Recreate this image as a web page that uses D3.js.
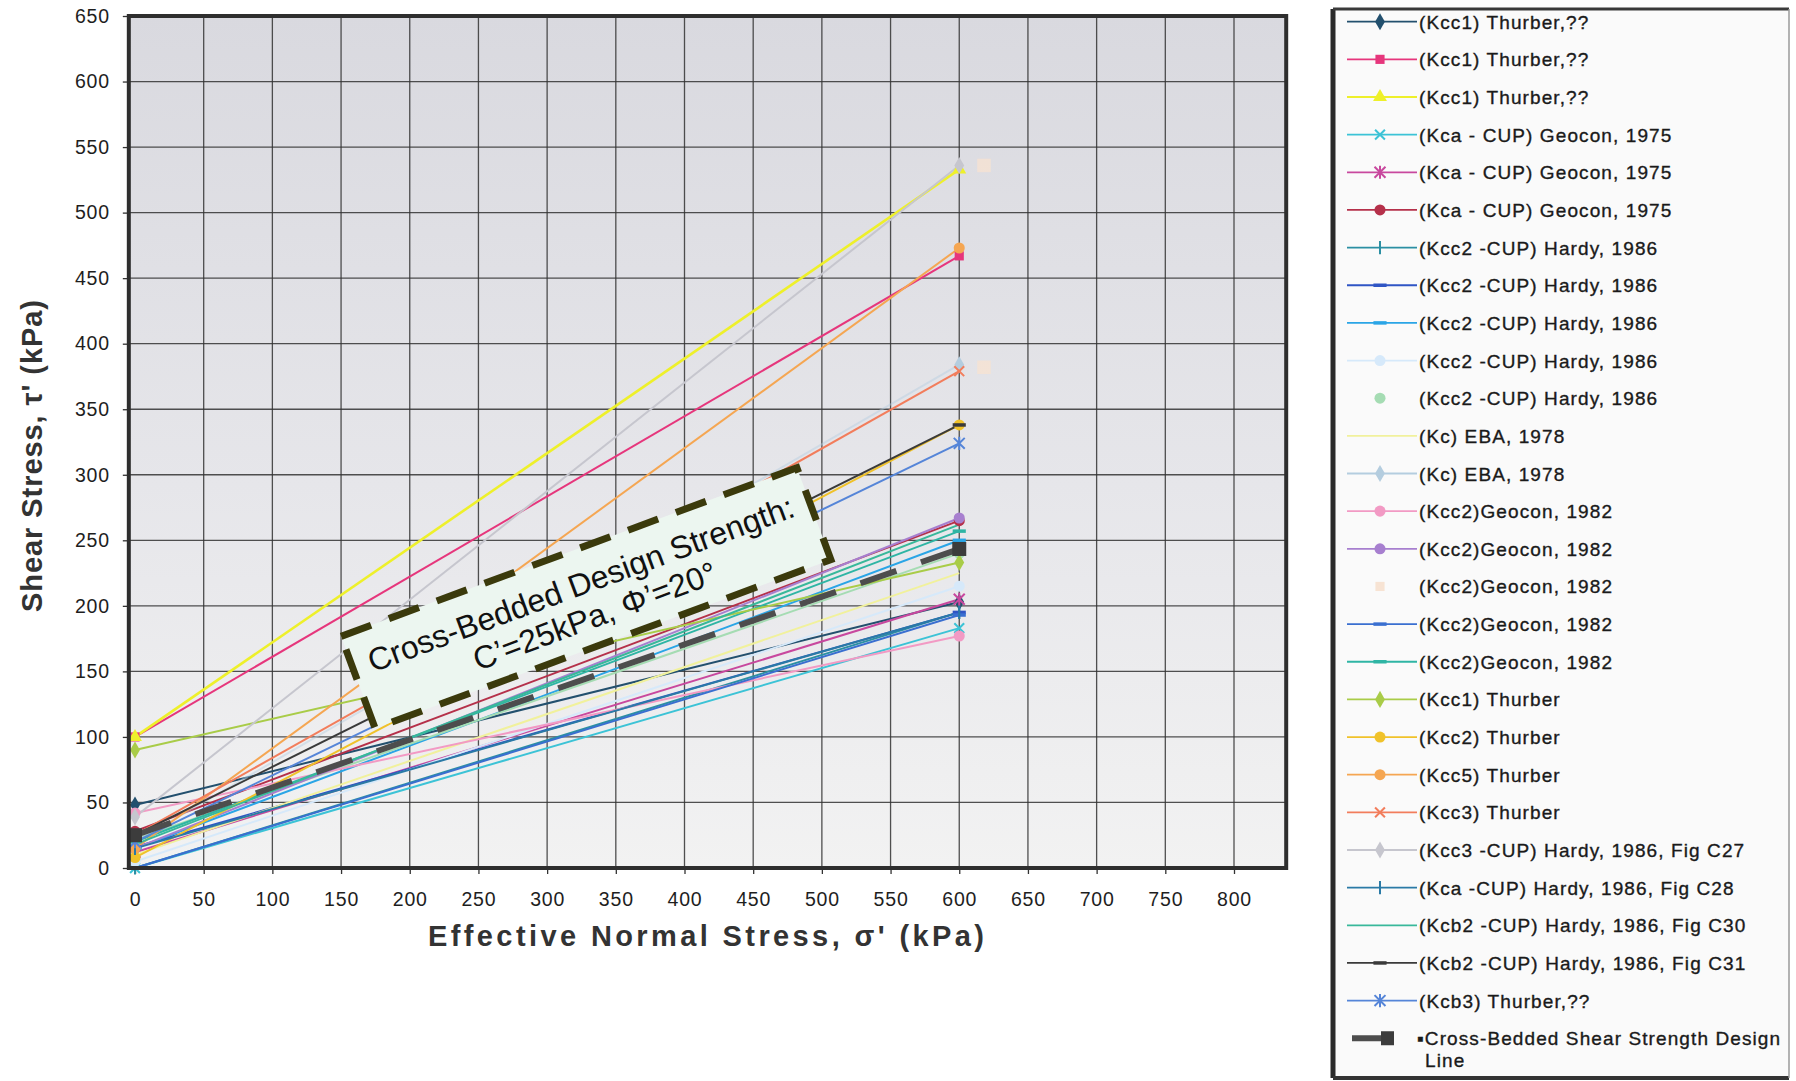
<!DOCTYPE html>
<html>
<head>
<meta charset="utf-8">
<script src="https://cdn.jsdelivr.net/npm/d3@7"></script>
<style>
  body { margin: 0; background: #ffffff; }
  svg { display: block; }
  text { font-family: "Liberation Sans", Arial, Helvetica, sans-serif; }
</style>
</head>
<body>
<svg id="chart" width="1796" height="1081"></svg>
<script>
// ---- data -------------------------------------------------------------
const seriesNames = [
  "(Kcc1) Thurber,??", "(Kcc1) Thurber,??", "(Kcc1) Thurber,??",
  "(Kca - CUP) Geocon, 1975", "(Kca - CUP) Geocon, 1975", "(Kca - CUP) Geocon, 1975",
  "(Kcc2 -CUP) Hardy, 1986", "(Kcc2 -CUP) Hardy, 1986", "(Kcc2 -CUP) Hardy, 1986",
  "(Kcc2 -CUP) Hardy, 1986", "(Kcc2 -CUP) Hardy, 1986",
  "(Kc) EBA, 1978", "(Kc) EBA, 1978",
  "(Kcc2)Geocon, 1982", "(Kcc2)Geocon, 1982", "(Kcc2)Geocon, 1982",
  "(Kcc2)Geocon, 1982", "(Kcc2)Geocon, 1982",
  "(Kcc1) Thurber", "(Kcc2) Thurber", "(Kcc5) Thurber", "(Kcc3) Thurber",
  "(Kcc3 -CUP) Hardy, 1986, Fig C27", "(Kca -CUP) Hardy, 1986, Fig C28",
  "(Kcb2 -CUP) Hardy, 1986, Fig C30", "(Kcb2 -CUP) Hardy, 1986, Fig C31",
  "(Kcb3) Thurber,??"
];
// effective normal stress at which each envelope is given (kPa)
const sigmaPoints = [0, 600];
// shear stress at sigma' = 0 and sigma' = 600 kPa (null = no envelope)
const tauAtZero = [48, 100, 100, 0, 12, 28, 0, 16, 15, 5, 22, 10, 20, 42, 15, null, 0, 20, 90, 8, 15, 25, 39, 15, 18, 25, 20];
const tauAt600  = [203, 467, 533, 183, 205, 265, 195, 195, 250, 215, 240, 225, 384, 177, 267, null, 193, 257, 233, 338, 473, 379, 536, 195, 262, 338, 324];
// (Kcc2)Geocon, 1982 points plotted without an envelope
const looseSigma = [618, 618];
const looseTau = [536, 382];
// design envelope
const designName = "Cross-Bedded Shear Strength Design";
const designCohesion = 25;   // kPa
const designPhi = 20;        // degrees
const xTickValues = d3.range(0, 801, 50);
const yTickValues = d3.range(0, 651, 50);

// ---- styles -----------------------------------------------------------
const seriesColors = [
  "#23506e", "#e6367c", "#eef02a", "#3cc3d6", "#c8489e", "#b5304a",
  "#2b8fa3", "#2f55c4", "#2aa5e6", "#d6e9fa", "#a5dcb3", "#f1f19c",
  "#b4cddf", "#f29ac4", "#a77fcf", "#f7e3d3", "#3a6fd0", "#2fb5a4",
  "#a9cc48", "#f0c22a", "#f5a652", "#f27d5c", "#c6c6ce", "#2a7aa6",
  "#38b89a", "#3a3a3a", "#5585d8"
];
const seriesMarkers = [
  "diamond", "square", "triangle", "x", "asterisk", "circle",
  "bar", "dash", "dash", "circle", "circle", "none",
  "diamond", "circle", "circle", "square", "dash", "dash",
  "diamond", "circle", "circle", "x", "diamond", "bar",
  "none", "dash", "asterisk"
];
const seriesLineOpacity = seriesNames.map((d, i) => (i === 12 ? 0.45 : 1));
const legendLineShown = seriesNames.map((d, i) => i !== 10 && i !== 15);

// ---- layout -----------------------------------------------------------
const svg = d3.select("#chart");
const x = d3.scaleLinear().domain([0, 800]).range([135, 1234]);
const y = d3.scaleLinear().domain([0, 650]).range([868, 16]);
const frame = { left: x(-4.5), right: x(838), top: y(650), bottom: y(0) };

const defs = svg.append("defs");
const grad = defs.append("linearGradient").attr("id", "plotBg")
  .attr("x1", 0).attr("y1", 0).attr("x2", 0).attr("y2", 1);
grad.append("stop").attr("offset", "0%").attr("stop-color", "#d9d9df");
grad.append("stop").attr("offset", "55%").attr("stop-color", "#e6e6ea");
grad.append("stop").attr("offset", "100%").attr("stop-color", "#f2f2f2");

// plot background
svg.append("rect")
  .attr("x", frame.left).attr("y", frame.top)
  .attr("width", frame.right - frame.left).attr("height", frame.bottom - frame.top)
  .attr("fill", "url(#plotBg)");

// grid
const grid = svg.append("g").attr("stroke", "#333").attr("stroke-width", 1.3).attr("stroke-opacity", 0.85);
grid.selectAll("line.v").data(xTickValues.filter(v => v > 0)).join("line")
  .attr("x1", d => x(d)).attr("x2", d => x(d))
  .attr("y1", frame.top).attr("y2", frame.bottom);
grid.selectAll("line.h").data(yTickValues.filter(v => v > 0 && v < 650)).join("line")
  .attr("x1", frame.left).attr("x2", frame.right)
  .attr("y1", d => y(d)).attr("y2", d => y(d));

// axes
const yAxis = svg.append("g").attr("transform", `translate(${frame.left},0)`)
  .call(d3.axisLeft(y).tickValues(yTickValues).tickSize(6).tickPadding(13));
const xAxis = svg.append("g").attr("transform", `translate(0,${frame.bottom})`)
  .call(d3.axisBottom(x).tickValues(xTickValues).tickSize(6).tickPadding(18));
[xAxis, yAxis].forEach(a => {
  a.select(".domain").remove();
  a.selectAll(".tick line").attr("stroke", "#333").attr("stroke-width", 1.3);
  a.selectAll(".tick text")
    .attr("fill", "#1e1e1e")
    .style("font-size", "19.5px")
    .style("letter-spacing", "0.8px")
    .style("font-family", "'Liberation Sans', Arial, sans-serif");
});

// marker drawing
function marker(g, type, cx, cy, color, s) {
  s = s || 1;
  const t = `translate(${cx},${cy})`;
  if (type === "none") return;
  if (type === "diamond") {
    g.append("path").attr("transform", t).attr("d", d3.symbol(d3.symbolDiamond, 70 * s)())
      .attr("fill", color);
  } else if (type === "square") {
    g.append("path").attr("transform", t).attr("d", d3.symbol(d3.symbolSquare, 70 * s)())
      .attr("fill", color);
  } else if (type === "triangle") {
    g.append("path").attr("transform", t).attr("d", d3.symbol(d3.symbolTriangle, 70 * s)())
      .attr("fill", color);
  } else if (type === "circle") {
    g.append("path").attr("transform", t).attr("d", d3.symbol(d3.symbolCircle, 80 * s)())
      .attr("fill", color);
  } else if (type === "x") {
    const r = 4.5 * Math.sqrt(s);
    g.append("path").attr("transform", t)
      .attr("d", `M${-r},${-r}L${r},${r}M${-r},${r}L${r},${-r}`)
      .attr("stroke", color).attr("stroke-width", 2).attr("fill", "none");
  } else if (type === "asterisk") {
    const r = 5 * Math.sqrt(s);
    g.append("path").attr("transform", t)
      .attr("d", `M${-r},${-r}L${r},${r}M${-r},${r}L${r},${-r}M0,${-r * 1.2}L0,${r * 1.2}`)
      .attr("stroke", color).attr("stroke-width", 2).attr("fill", "none");
  } else if (type === "bar") {
    const r = 6 * Math.sqrt(s);
    g.append("path").attr("transform", t).attr("d", `M0,${-r}L0,${r}`)
      .attr("stroke", color).attr("stroke-width", 2).attr("fill", "none");
  } else if (type === "dash") {
    const r = 6 * Math.sqrt(s);
    g.append("path").attr("transform", t).attr("d", `M${-r},0L${r},0`)
      .attr("stroke", color).attr("stroke-width", 3.5).attr("fill", "none");
  }
}

// envelopes
const line = d3.line().x(d => x(d[0])).y(d => y(d[1]));
const plot = svg.append("g");
seriesNames.forEach((name, i) => {
  if (tauAtZero[i] === null) return;
  const pts = sigmaPoints.map((s, k) => [s, k === 0 ? tauAtZero[i] : tauAt600[i]]);
  plot.append("path").datum(pts).attr("d", line)
    .attr("fill", "none").attr("stroke", seriesColors[i])
    .attr("stroke-opacity", seriesLineOpacity[i])
    .attr("stroke-width", i === 2 ? 2.6 : 2);
});
seriesNames.forEach((name, i) => {
  if (tauAtZero[i] === null) {
    plot.append("g").attr("opacity", 0.8).call(g =>
      looseSigma.forEach((s, k) => marker(g, seriesMarkers[i], x(s), y(looseTau[k]), seriesColors[i], 2.6)));
    return;
  }
  sigmaPoints.forEach((s, k) => {
    const t = k === 0 ? tauAtZero[i] : tauAt600[i];
    marker(plot, seriesMarkers[i], x(s), y(t), seriesColors[i], 1.2);
  });
});

// design envelope: tau = c' + sigma' tan(phi')
const designPts = sigmaPoints.map(s => [s, designCohesion + s * Math.tan(designPhi * Math.PI / 180)]);
plot.append("path").datum(designPts).attr("d", line)
  .attr("fill", "none").attr("stroke", "#4d4d4d").attr("stroke-width", 6)
  .attr("stroke-dasharray", "38 26");
designPts.forEach(p => {
  plot.append("rect").attr("x", x(p[0]) - 7).attr("y", y(p[1]) - 7)
    .attr("width", 14).attr("height", 14).attr("fill", "#3c3c3c");
});

// frame
svg.append("rect")
  .attr("x", frame.left).attr("y", frame.top)
  .attr("width", frame.right - frame.left).attr("height", frame.bottom - frame.top)
  .attr("fill", "none").attr("stroke", "#2e2e2e").attr("stroke-width", 4);

// design strength callout
const callout = svg.append("g")
  .attr("transform", `translate(586,598) rotate(-20.3)`);
callout.append("rect")
  .attr("x", -243).attr("y", -49).attr("width", 486).attr("height", 98)
  .attr("fill", "#ecf6f0").attr("stroke", "#3b3a0c").attr("stroke-width", 7)
  .attr("stroke-dasharray", "32 19");
callout.append("text").attr("x", 0).attr("y", -4).attr("text-anchor", "middle")
  .style("font-size", "32px").attr("fill", "#111")
  .text("Cross-Bedded Design Strength:");
callout.append("text").attr("x", 2).attr("y", 31).attr("text-anchor", "middle")
  .style("font-size", "32px").attr("fill", "#111")
  .text(`C\u2019=${designCohesion}kPa, \u03A6\u2019=${designPhi}\u00B0`);

// axis titles
svg.append("text")
  .attr("transform", "translate(42,456) rotate(-90)")
  .attr("text-anchor", "middle")
  .attr("textLength", 312).attr("lengthAdjust", "spacing")
  .style("font-size", "29px").style("font-weight", "bold").attr("fill", "#333")
  .text("Shear Stress, \u03C4' (kPa)");
svg.append("text")
  .attr("x", 706).attr("y", 946)
  .attr("text-anchor", "middle")
  .attr("textLength", 556).attr("lengthAdjust", "spacing")
  .style("font-size", "29px").style("font-weight", "bold").attr("fill", "#333")
  .text("Effective Normal Stress, \u03C3' (kPa)");

// legend
const lg = svg.append("g");
const lgBox = { left: 1333, top: 9, right: 1789, bottom: 1078 };
lg.append("rect").attr("x", lgBox.left).attr("y", lgBox.top)
  .attr("width", lgBox.right - lgBox.left).attr("height", lgBox.bottom - lgBox.top)
  .attr("fill", "#fafafa");
lg.append("line").attr("x1", lgBox.left).attr("x2", lgBox.left).attr("y1", lgBox.top).attr("y2", lgBox.bottom)
  .attr("stroke", "#2a2a2a").attr("stroke-width", 5);
lg.append("line").attr("x1", lgBox.left).attr("x2", lgBox.right).attr("y1", lgBox.top).attr("y2", lgBox.top)
  .attr("stroke", "#3a3a3a").attr("stroke-width", 3);
lg.append("line").attr("x1", lgBox.left).attr("x2", lgBox.right).attr("y1", lgBox.bottom).attr("y2", lgBox.bottom)
  .attr("stroke", "#333").attr("stroke-width", 4);
lg.append("line").attr("x1", lgBox.right).attr("x2", lgBox.right).attr("y1", lgBox.top).attr("y2", lgBox.bottom)
  .attr("stroke", "#9a9a9a").attr("stroke-width", 1.5);

const legendText = (sel) => sel
  .style("font-size", "19px").style("letter-spacing", "1.1px")
  .attr("fill", "#1a1a1a").attr("stroke", "#1a1a1a").attr("stroke-width", 0.35);

const rowY = i => 21.7 + 37.65 * i;
seriesNames.forEach((name, i) => {
  const cy = rowY(i);
  if (legendLineShown[i]) {
    lg.append("line").attr("x1", 1347).attr("x2", 1417).attr("y1", cy).attr("y2", cy)
      .attr("stroke", seriesColors[i]).attr("stroke-width", 1.8);
  }
  marker(lg, seriesMarkers[i], 1380, cy, seriesColors[i], 1.2);
  lg.append("text").attr("x", 1419).attr("y", cy + 7).call(legendText).text(name);
});
const dy = rowY(seriesNames.length);
lg.append("line").attr("x1", 1352).attr("x2", 1386).attr("y1", dy).attr("y2", dy)
  .attr("stroke", "#4d4d4d").attr("stroke-width", 6);
lg.append("rect").attr("x", 1381).attr("y", dy - 7).attr("width", 13).attr("height", 14).attr("fill", "#3c3c3c");
lg.append("text").attr("x", 1417).attr("y", dy + 7).call(legendText)
  .text("\u25AA" + designName);
lg.append("text").attr("x", 1425).attr("y", dy + 29).call(legendText)
  .text("Line");
</script>
</body>
</html>
